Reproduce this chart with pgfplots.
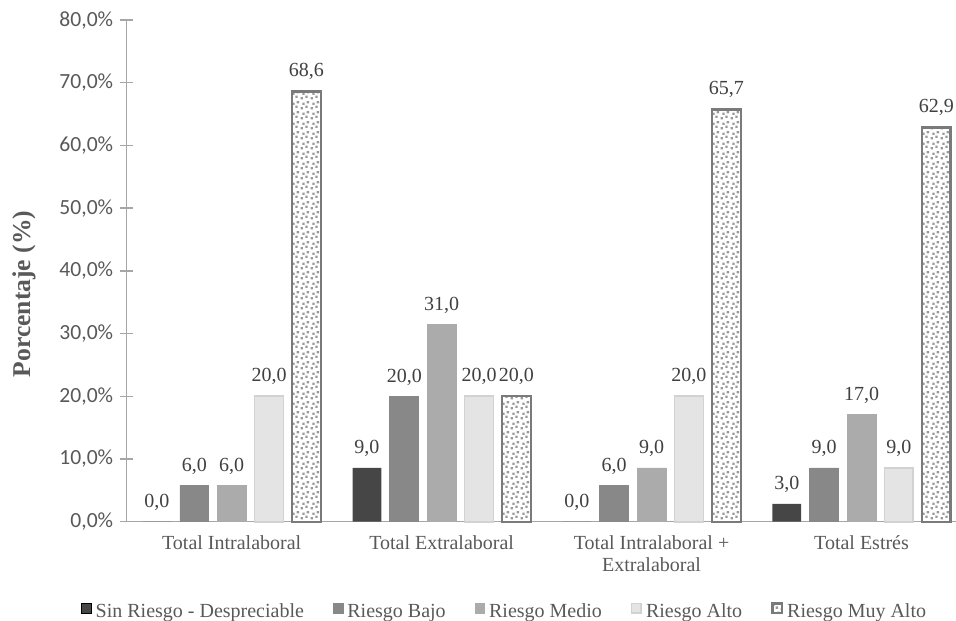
\documentclass[border=0pt]{standalone}
\usepackage{pgfplots}
\pgfplotsset{compat=1.18}
\usepackage{fontspec}
\setmainfont{Liberation Serif}
\newfontfamily\calibri{Carlito}
\usetikzlibrary{patterns}

\pgfdeclarepatternformonly{bigdots}{\pgfqpoint{0pt}{0pt}}{\pgfqpoint{5pt}{5pt}}{\pgfqpoint{5pt}{5pt}}{%
 \pgfpathrectangle{\pgfqpoint{0.3pt}{0.3pt}}{\pgfqpoint{1.3pt}{1.3pt}}%
 \pgfpathrectangle{\pgfqpoint{2.9pt}{1.1pt}}{\pgfqpoint{1.3pt}{1.3pt}}%
 \pgfpathrectangle{\pgfqpoint{1.3pt}{2.8pt}}{\pgfqpoint{1.3pt}{1.3pt}}%
 \pgfpathrectangle{\pgfqpoint{3.7pt}{3.6pt}}{\pgfqpoint{1.3pt}{1.3pt}}%
 \pgfusepath{fill}}

\definecolor{c1}{HTML}{464646}
\definecolor{c2}{HTML}{888888}
\definecolor{c3}{HTML}{ABABAB}
\definecolor{c4}{HTML}{E4E4E4}
\definecolor{c4b}{HTML}{D2D2D2}
\definecolor{c5b}{HTML}{7A7A7A}
\definecolor{dotc}{HTML}{999999}
\definecolor{txt}{HTML}{595959}
\definecolor{valc}{HTML}{404040}
\definecolor{axisc}{HTML}{A6A6A6}

\begin{document}
\begin{tikzpicture}
\useasboundingbox (-63.35pt,-49.15pt) rectangle (414.65pt,260.85pt);
\begin{axis}[
  at={(0pt,0pt)}, anchor=south west,
  width=414.65pt, height=250.85pt, scale only axis,
  ybar, bar width=0.137,
  xmin=-0.5, xmax=3.45, ymin=0, ymax=80,
  axis x line*=bottom, axis y line*=left,
  axis line style={draw=axisc, line width=0.7pt},
  xtick={0,1,2,3},
  xticklabels={{Total Intralaboral},{Total Extralaboral},{Total Intralaboral +\\Extralaboral},{Total Estrés}},
  xticklabel style={align=center, font=\fontsize{10}{11.2}\selectfont, text=txt},
  x tick style={draw=none},
  ytick={0,10,...,80},
  yticklabel={\pgfmathprintnumber[fixed,fixed zerofill,precision=1,use comma,assume math mode=true]{\tick}\%},
  yticklabel style={font=\calibri\fontsize{10.8}{12}\selectfont, text=txt},
  y tick style={draw=axisc, line width=0.7pt},
  tick align=center, major tick length=6.5pt,
  ylabel={Porcentaje (\%)},
  ylabel style={at={(axis description cs:-0.124,0.454)}, anchor=center, font=\bfseries\fontsize{12.8}{14}\selectfont, text=txt},
  clip=false,
  nodes near coords,
  point meta=explicit symbolic,
  every node near coord/.append style={font=\fontsize{10}{12}\selectfont, text=valc, yshift=2pt},
  legend style={at={(axis description cs:0.457,-0.18)}, anchor=center, draw=none, fill=none,
    font=\fontsize{10}{12}\selectfont, text=txt, legend columns=5,
    /tikz/every even column/.append style={column sep=12.5pt}},
  legend image code/.code={\draw[#1] (0pt,-0.6pt) rectangle (4.8pt,4.2pt);},
]
\addplot[fill=c1, draw=none, bar shift=-0.356] coordinates {(0,0) [0,0] (1,8.57) [9,0] (2,0) [0,0] (3,2.86) [3,0]};
\addplot[fill=c2, draw=c2, line width=0.4pt, bar shift=-0.178] coordinates {(0,5.71) [6,0] (1,20.0) [20,0] (2,5.71) [6,0] (3,8.57) [9,0]};
\addplot[fill=c3, draw=c3, line width=0.4pt, bar shift=0] coordinates {(0,5.71) [6,0] (1,31.43) [31,0] (2,8.57) [9,0] (3,17.14) [17,0]};
\addplot[fill=c4, draw=c4b, line width=0.8pt, bar shift=0.178] coordinates {(0,20.0) [20,0] (1,20.0) [20,0] (2,20.0) [20,0] (3,8.57) [9,0]};
\addplot[pattern=bigdots, pattern color=dotc, draw=c5b, line width=1.2pt, bar shift=0.356] coordinates {(0,68.57) [68,6] (1,20.0) [20,0] (2,65.71) [65,7] (3,62.86) [62,9]};
\legend{Sin Riesgo - Despreciable, Riesgo Bajo, Riesgo Medio, Riesgo Alto, Riesgo Muy Alto}
\end{axis}
\end{tikzpicture}
\end{document}
